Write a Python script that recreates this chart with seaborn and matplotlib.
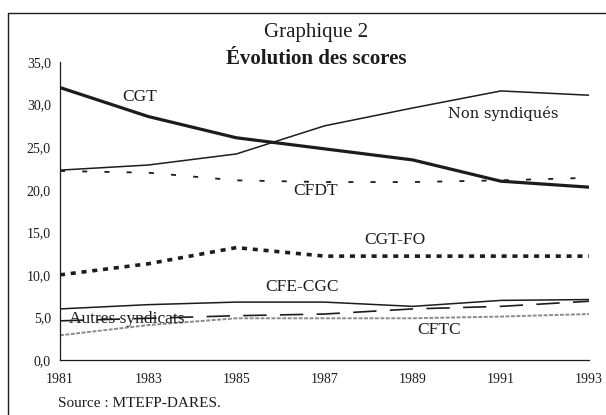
import matplotlib
matplotlib.use("Agg")
import matplotlib.pyplot as plt
import seaborn as sns
from matplotlib.lines import Line2D

years = [1981, 1983, 1985, 1987, 1989, 1991, 1993]
cgt = [32.0, 28.6, 26.1, 24.8, 23.5, 21.0, 20.3]
non_synd = [22.3, 22.9, 24.2, 27.5, 29.6, 31.6, 31.1]
cfdt = [22.2, 22.0, 21.1, 20.9, 20.9, 21.1, 21.4]
cgt_fo = [10.0, 11.3, 13.2, 12.2, 12.2, 12.2, 12.2]
cfe_cgc = [6.0, 6.5, 6.8, 6.8, 6.3, 7.0, 7.1]
autres = [4.6, 4.9, 5.2, 5.4, 6.0, 6.3, 6.9]
cftc = [2.9, 4.1, 4.9, 4.9, 4.9, 5.1, 5.4]
y_ticks = [0, 5, 10, 15, 20, 25, 30, 35]

sns.set_style("white")
plt.rcParams["font.family"] = ["Liberation Serif", "DejaVu Serif"]

fig = plt.figure(figsize=(6.06, 4.15), dpi=100)
ax = fig.add_axes([60 / 606, 1 - 360 / 415, 529 / 606, 298 / 415])

ink = "#1c1c1c"
sns.lineplot(x=years, y=cgt, ax=ax, color=ink, lw=2.3)
sns.lineplot(x=years, y=non_synd, ax=ax, color=ink, lw=1.1)
sns.lineplot(x=years, y=cfdt, ax=ax, color=ink, lw=1.3,
             linestyle=(0, (2.8, 9.5)))
sns.lineplot(x=years, y=cgt_fo, ax=ax, color=ink, lw=2.6,
             linestyle=(0, (1.4, 1.6)))
sns.lineplot(x=years, y=cfe_cgc, ax=ax, color=ink, lw=1.1)
sns.lineplot(x=years, y=autres, ax=ax, color=ink, lw=1.2,
             linestyle=(0, (14, 8)))
sns.lineplot(x=years, y=cftc, ax=ax, color="#8a8a8a", lw=1.4,
             linestyle=(0, (2, 0.8)))

ax.set_xlim(1981, 1993)
ax.set_ylim(0, 35)
ax.set_xticks(years)
ax.set_xticklabels([str(y) for y in years])
ax.set_yticks(y_ticks)
ax.set_yticklabels([f"{v:.1f}".replace(".", ",") for v in y_ticks])
ax.tick_params(axis="both", direction="inout", length=7, width=0.8,
               colors=ink, labelsize=10)
ax.tick_params(axis="x", pad=6)
ax.tick_params(axis="y", pad=3)
for side in ["top", "right"]:
    ax.spines[side].set_visible(False)
for side in ["left", "bottom"]:
    ax.spines[side].set_color(ink)
    ax.spines[side].set_linewidth(0.9)

# series labels
lab = dict(color=ink, fontsize=12.5)
ax.text(1982.8, 30.9, "CGT", ha="center", va="center", **lab)
ax.text(1989.8, 29.0, "Non syndiqués", ha="left", va="center", color=ink,
        fontsize=10.5, family="DejaVu Serif")
ax.text(1986.8, 19.9, "CFDT", ha="center", va="center", **lab)
ax.text(1988.6, 14.1, "CGT-FO", ha="center", va="center", **lab)
ax.text(1986.5, 8.6, "CFE-CGC", ha="center", va="center", **lab)
ax.text(1981.2, 4.8, "Autres syndicats", ha="left", va="center", **lab)
ax.text(1989.6, 3.5, "CFTC", ha="center", va="center", **lab)

fig.text(316 / 606, 1 - 33 / 415, "Graphique 2", ha="center", va="center",
         fontsize=15, color=ink)
fig.text(316 / 606, 1 - 59 / 415, "Évolution des scores", ha="center",
         va="center", fontsize=15, fontweight="bold", color=ink)
fig.text(58 / 606, 1 - 403 / 415, "Source : MTEFP-DARES.", ha="left",
         va="center", fontsize=11, color=ink)

# outer frame of the scanned page
fig.add_artist(Line2D([8 / 606, 8 / 606], [0, 1 - 13 / 415],
                      transform=fig.transFigure, color=ink, lw=1.0))
fig.add_artist(Line2D([8 / 606, 1], [1 - 13 / 415, 1 - 13 / 415],
                      transform=fig.transFigure, color=ink, lw=1.0))

fig.savefig("out.png", dpi=100)
